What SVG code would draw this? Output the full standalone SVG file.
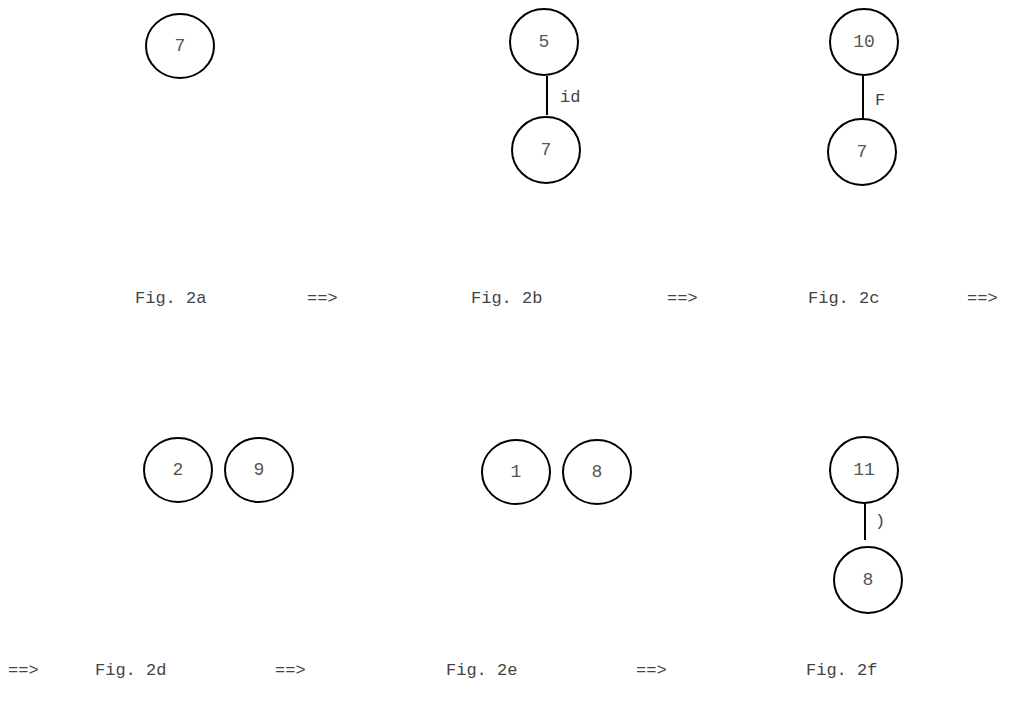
<svg xmlns="http://www.w3.org/2000/svg" width="1018" height="709" viewBox="0 0 1018 709">
<style>
.n ellipse{fill:#fff;stroke:#000;stroke-width:2}
text{font-family:"Liberation Mono","Courier New",monospace;font-size:17px;fill:#444}
.n text{text-anchor:middle;dominant-baseline:central;font-size:18px;fill:#555}
.e line{stroke:#000;stroke-width:2}
</style>
<rect width="1018" height="709" fill="#fff"/>
<g id="connectors" class="e">
<line x1="547" y1="76" x2="547" y2="115"/>
<line x1="863" y1="76" x2="863" y2="118"/>
<line x1="865" y1="503" x2="865" y2="540"/>
</g>
<g id="edge-labels">
<text x="560" y="102">id</text>
<text x="875" y="105">F</text>
<text x="875" y="526">)</text>
</g>
<g id="a7" class="n"><ellipse cx="180" cy="46" rx="34" ry="32"/><text x="180" y="46">7</text></g>
<g id="b5" class="n"><ellipse cx="544" cy="42" rx="34" ry="33"/><text x="544" y="42">5</text></g>
<g id="b7" class="n"><ellipse cx="546" cy="150" rx="34" ry="33"/><text x="546" y="150">7</text></g>
<g id="c10" class="n"><ellipse cx="864" cy="42" rx="34" ry="33"/><text x="864" y="42">10</text></g>
<g id="c7" class="n"><ellipse cx="862" cy="152" rx="34" ry="33"/><text x="862" y="152">7</text></g>
<g id="d2" class="n"><ellipse cx="178" cy="470" rx="34" ry="32"/><text x="178" y="470">2</text></g>
<g id="d9" class="n"><ellipse cx="259" cy="470" rx="34" ry="32"/><text x="259" y="470">9</text></g>
<g id="e1" class="n"><ellipse cx="516" cy="472" rx="34" ry="32"/><text x="516" y="472">1</text></g>
<g id="e8" class="n"><ellipse cx="597" cy="472" rx="34" ry="32"/><text x="597" y="472">8</text></g>
<g id="f11" class="n"><ellipse cx="864" cy="470" rx="34" ry="33"/><text x="864" y="470">11</text></g>
<g id="f8" class="n"><ellipse cx="868" cy="580" rx="34" ry="33"/><text x="868" y="580">8</text></g>
<g id="captions">
<text x="135" y="303">Fig. 2a</text>
<text x="307" y="303">==&gt;</text>
<text x="471" y="303">Fig. 2b</text>
<text x="667" y="303">==&gt;</text>
<text x="808" y="303">Fig. 2c</text>
<text x="967" y="303">==&gt;</text>
<text x="8" y="675">==&gt;</text>
<text x="95" y="675">Fig. 2d</text>
<text x="275" y="675">==&gt;</text>
<text x="446" y="675">Fig. 2e</text>
<text x="636" y="675">==&gt;</text>
<text x="806" y="675">Fig. 2f</text>
</g>
</svg>
